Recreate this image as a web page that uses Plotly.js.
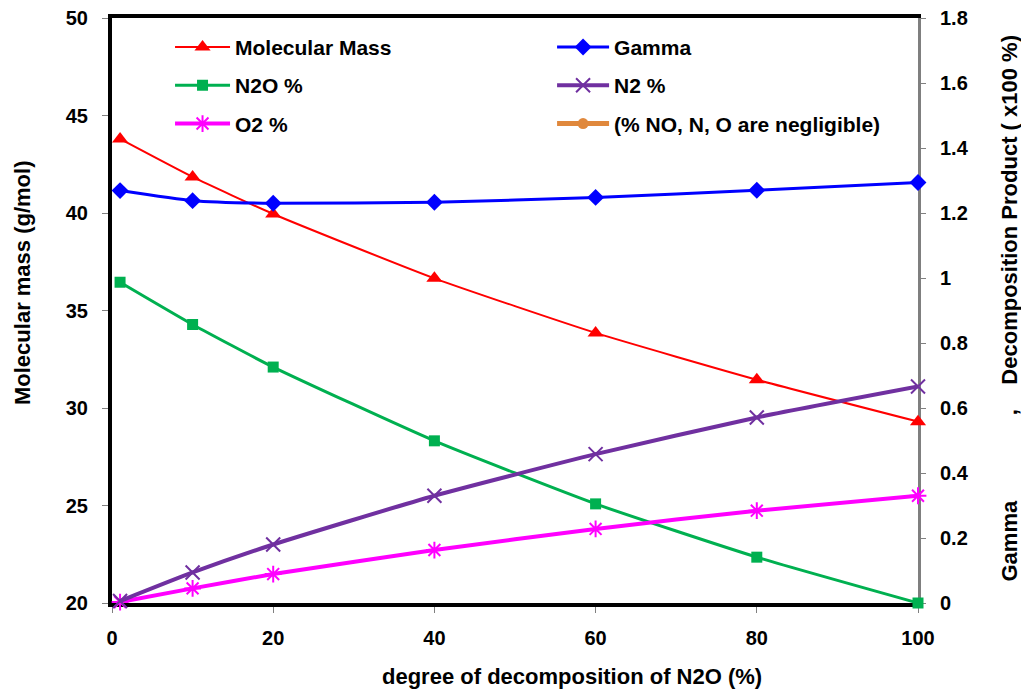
<!DOCTYPE html>
<html>
<head>
<meta charset="utf-8">
<script src="https://cdn.plot.ly/plotly-3.0.1.min.js"></script>
<style>html,body{margin:0;padding:0;background:#fff;}#chart{width:1021px;height:691px;}</style>
</head>
<body>
<div id="chart"></div>
<script>
const decomposition = [1, 10, 20, 40, 60, 80, 100];
const molecularMass = [43.8, 41.85, 39.95, 36.65, 33.85, 31.45, 29.3];
const gamma = [1.269, 1.238, 1.230, 1.233, 1.248, 1.270, 1.294];
const n2oFrac = [0.987, 0.857, 0.726, 0.499, 0.305, 0.141, 0.0];
const n2Frac = [0.006, 0.094, 0.180, 0.330, 0.458, 0.571, 0.666];
const o2Frac = [0.003, 0.045, 0.089, 0.163, 0.228, 0.284, 0.330];
const leftTicks = [20, 25, 30, 35, 40, 45, 50];
const rightTicks = [0, 0.2, 0.4, 0.6, 0.8, 1, 1.2, 1.4, 1.6, 1.8];
const xTicks = [0, 20, 40, 60, 80, 100];

const F = 'Liberation Sans, Arial, sans-serif';
const lf = {family: F, size: 21, color: '#000', weight: 'bold'};
const tf = {family: F, size: 20, weight: 'bold', color: '#000'};
const titleFont = {family: F, size: 22, weight: 'bold', color: '#000'};

const traces = [
  {name: 'Molecular Mass', x: decomposition, y: molecularMass, yaxis: 'y', legend: 'legend', legendgroup: 'a',
   mode: 'lines+markers', cliponaxis: false, line: {color: '#FF0000', width: 2, shape: 'spline', smoothing: 0.5},
   marker: {symbol: 'triangle-up', size: 14, color: '#FF0000'}},
  {name: 'N2O %', x: decomposition, y: n2oFrac, yaxis: 'y2', legend: 'legend', legendgroup: 'b',
   mode: 'lines+markers', cliponaxis: false, line: {color: '#00B050', width: 3, shape: 'spline', smoothing: 0.5},
   marker: {symbol: 'square', size: 11, color: '#00B050'}},
  {name: 'O2 %', x: decomposition, y: o2Frac, yaxis: 'y2', legend: 'legend', legendgroup: 'c',
   mode: 'lines+markers', cliponaxis: false, line: {color: '#FF00FF', width: 4, shape: 'spline', smoothing: 0.5},
   marker: {symbol: 'asterisk-open', size: 14, color: '#FF00FF', line: {color: '#FF00FF', width: 2}}},
  {name: 'Gamma', x: decomposition, y: gamma, yaxis: 'y2', legend: 'legend2', legendgroup: 'd',
   mode: 'lines+markers', cliponaxis: false, line: {color: '#0000FF', width: 3, shape: 'spline', smoothing: 0.5},
   marker: {symbol: 'diamond', size: 13, color: '#0000FF'}},
  {name: 'N2 %', x: decomposition, y: n2Frac, yaxis: 'y2', legend: 'legend2', legendgroup: 'e',
   mode: 'lines+markers', cliponaxis: false, line: {color: '#7030A0', width: 4, shape: 'spline', smoothing: 0.5},
   marker: {symbol: 'x-thin-open', size: 14, color: '#7030A0', line: {color: '#7030A0', width: 2}}},
  {name: '(% NO, N, O are negligible)', x: [null], y: [null], yaxis: 'y2', legend: 'legend2', legendgroup: 'f',
   mode: 'lines+markers', line: {color: '#E0883C', width: 5},
   marker: {symbol: 'circle', size: 11, color: '#E0883C'}}
];

const layout = {
  width: 1021, height: 691,
  margin: {l: 112, r: 103, t: 18, b: 88},
  paper_bgcolor: '#fff', plot_bgcolor: '#fff',
  font: {family: F, color: '#000'},
  xaxis: {
    range: [0, 100], tickvals: xTicks, ticktext: xTicks.map(String),
    showgrid: false, zeroline: false,
    showline: true, linecolor: '#000', linewidth: 4, mirror: true,
    ticks: 'outside', ticklen: 6, tickcolor: '#808080', tickwidth: 1,
    ticklabelstandoff: 8, layer: 'below traces',
    tickfont: tf
  },
  yaxis: {
    range: [20, 50], tickvals: leftTicks, ticktext: leftTicks.map(String),
    showgrid: false, zeroline: false,
    showline: true, linecolor: '#000', linewidth: 4,
    ticks: 'outside', ticklen: 6, tickcolor: '#808080', tickwidth: 1,
    ticklabelstandoff: 10, layer: 'below traces',
    tickfont: tf
  },
  yaxis2: {
    overlaying: 'y', side: 'right',
    range: [0, 1.8], tickvals: rightTicks, ticktext: rightTicks.map(String),
    showgrid: false, zeroline: false,
    showline: true, linecolor: '#7F7F7F', linewidth: 3,
    ticks: 'outside', ticklen: 5, tickcolor: '#808080', tickwidth: 1,
    ticklabelstandoff: 10, layer: 'below traces',
    tickfont: tf
  },
  legend: {
    x: 0.072, y: 0.985, xanchor: 'left', yanchor: 'top',
    bgcolor: 'rgba(0,0,0,0)', font: lf, tracegroupgap: 8, itemwidth: 55
  },
  legend2: {
    x: 0.546, y: 0.985, xanchor: 'left', yanchor: 'top',
    bgcolor: 'rgba(0,0,0,0)', font: lf, tracegroupgap: 8, itemwidth: 52
  },
  annotations: [
    {xref: 'paper', yref: 'paper', x: 0.571, y: 0, yshift: -73,
     text: 'degree of decomposition of N2O (%)', showarrow: false,
     xanchor: 'center', yanchor: 'middle', font: titleFont},
    {xref: 'paper', yref: 'paper', x: 0, xshift: -90, y: 0.547,
     text: 'Molecular mass (g/mol)', textangle: -90, showarrow: false,
     xanchor: 'center', yanchor: 'middle', font: titleFont},
    {xref: 'paper', yref: 'paper', x: 1, xshift: 91, y: 0.5, yshift: 2,
     text: 'Gamma' + '&nbsp;'.repeat(14) + ',' + '&nbsp;'.repeat(4) + 'Decomposition Product ( x100 %)',
     textangle: -90, showarrow: false, xanchor: 'center', yanchor: 'middle',
     font: titleFont}
  ],
  showlegend: true
};

Plotly.newPlot('chart', traces, layout, {displayModeBar: false, staticPlot: true});
</script>
</body>
</html>
